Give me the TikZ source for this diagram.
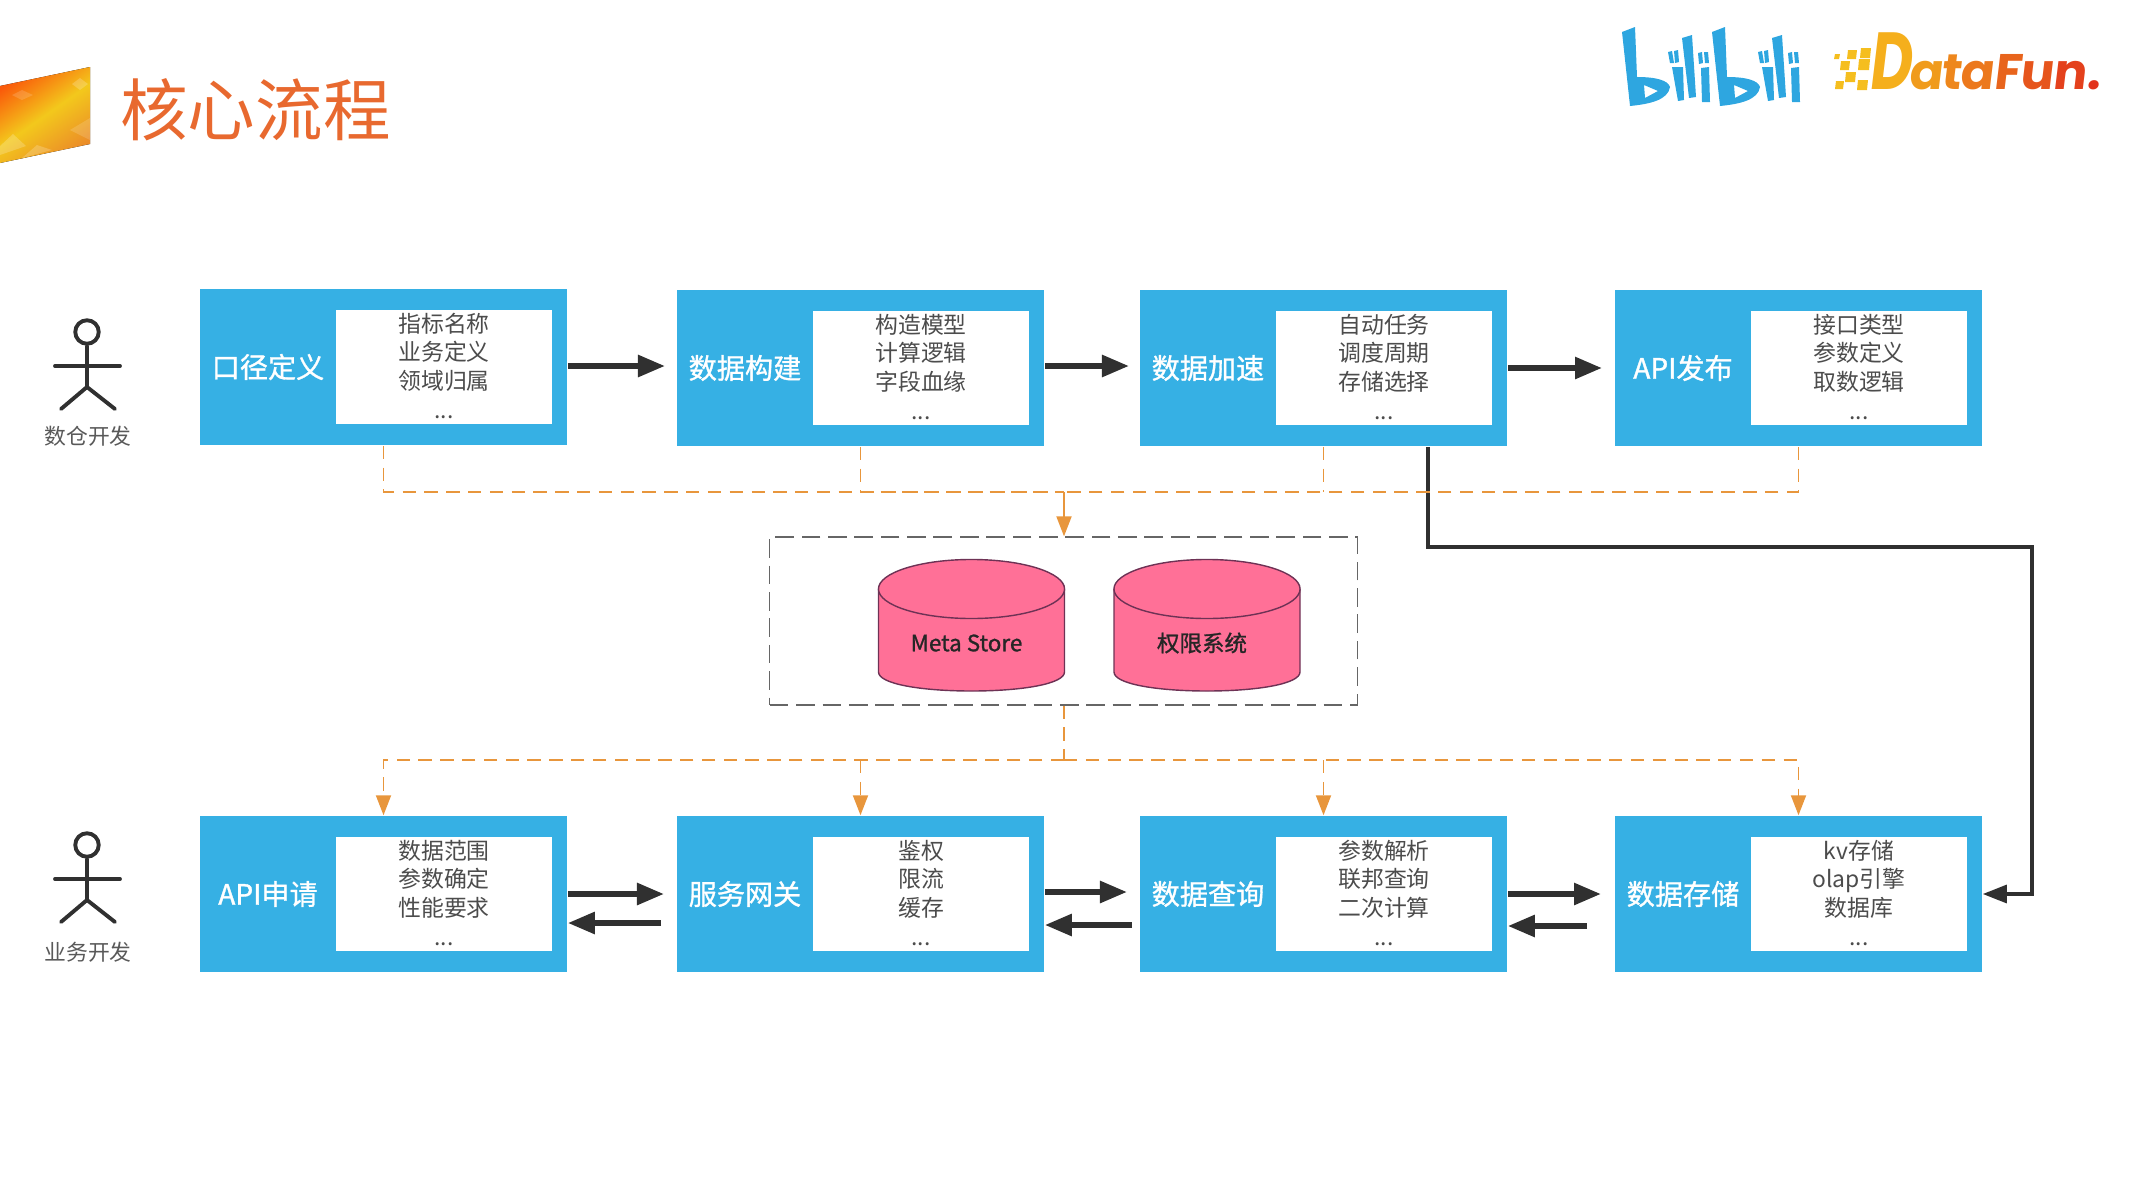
\documentclass[tikz,border=0pt]{standalone}
\usepackage{fontspec}
\setmainfont{Noto Sans CJK SC}
\newfontfamily\mediumfont{Noto Sans CJK SC}[FakeBold=1.1]
\newfontfamily\logofont{Poppins}[BoldFont={Poppins Bold},BoldFeatures={FakeSlant=0.12}]
\newfontface\logodee{Poppins Bold}[FakeSlant=0.12,FakeStretch=0.72]
\usepackage{xcolor}
\usetikzlibrary{arrows.meta}
\usetikzlibrary{backgrounds}
\usetikzlibrary{calc}
\pgfdeclarelayer{edgelayer}
\pgfdeclarelayer{nodelayer}
\pgfsetlayers{background,edgelayer,nodelayer,main}
\definecolor{boxblue}{RGB}{54,176,228}
\definecolor{dashorange}{RGB}{232,150,60}
\definecolor{darkline}{RGB}{48,48,48}
\definecolor{dbpink}{RGB}{255,112,151}
\definecolor{dbedge}{RGB}{110,50,85}
\definecolor{titleorange}{RGB}{232,105,47}
\definecolor{bililogo}{RGB}{46,166,224}
\definecolor{ribbonlow}{RGB}{250,90,10}
\definecolor{ribbonmid}{RGB}{243,200,28}
\definecolor{ribbonhigh}{RGB}{235,140,40}
\tikzstyle{none}=[inner sep=0mm]
\tikzstyle{blue box}=[inner sep=0mm,fill=boxblue,minimum width=3.67cm,minimum height=1.56cm]
\tikzstyle{white box}=[inner sep=0mm,fill=white,minimum width=2.16cm,minimum height=1.14cm,align=center,text=black!70,text depth=0.03cm,font=\fontsize{6.5}{8.16}\selectfont]
\tikzstyle{box title}=[inner sep=0mm,text=white,font=\mediumfont\fontsize{8}{10}\selectfont]
\tikzstyle{actor}=[line width=1.1pt,draw=darkline,line cap=round]
\tikzstyle{actor label}=[inner sep=0mm,text=black!65,font=\fontsize{6.2}{8}\selectfont]
\tikzstyle{flow}=[line width=1.6pt,draw=darkline,-{Triangle[length=0.27cm,width=0.21cm]}]
\tikzstyle{feed}=[line width=0.9pt,draw=darkline,-{Triangle[length=0.24cm,width=0.18cm]}]
\tikzstyle{dash line}=[line width=0.55pt,draw=dashorange,dash pattern=on 3.8pt off 2.4pt]
\tikzstyle{dash arrow}=[dash line,-{Triangle[length=0.2cm,width=0.15cm,fill=dashorange]}]
\tikzstyle{db}=[line width=0.4pt,draw=dbedge,fill=dbpink]
\tikzstyle{logo}=[fill=bililogo]
\tikzset{
	db label/.style={inner sep=0mm,text=black!85,font=\mediumfont\fontsize{6.4}{8}\selectfont}
}
% one "bili" of the logo, x offset in #1
\newcommand{\bililogo}[1]{
	\fill [logo, even odd rule, shift={(#1,0)}] (1622,32) -- (1635,27) -- (1637,77) .. controls (1655,77) and (1668,80) .. (1670,87) .. controls (1668,100) and (1650,104) .. (1630,106) -- cycle
		(1644,85) -- (1658,91) -- (1645,98) -- cycle;
	\fill [logo,shift={(#1,0)}] (1668,52) -- (1672,51) -- (1674,63) -- (1670,63) -- cycle;
	\fill [logo,shift={(#1,0)}] (1674,51) -- (1678,50) -- (1679,62) -- (1675,63) -- cycle;
	\fill [logo,shift={(#1,0)}] (1672,67) -- (1683,67) -- (1684,100) -- (1678,101) -- cycle;
	\fill [logo,shift={(#1,0)}] (1682,38) -- (1692,35) -- (1696,97) -- (1689,98) -- cycle;
	\fill [logo,shift={(#1,0)}] (1698,53) -- (1702,52) -- (1703,63) -- (1699,64) -- cycle;
	\fill [logo,shift={(#1,0)}] (1704,52) -- (1708,52) -- (1709,63) -- (1705,63) -- cycle;
	\fill [logo,shift={(#1,0)}] (1701,68) -- (1709,67) -- (1710,102) -- (1702,102) -- cycle;
}
% letter in its own colour, #1 = red, #2 = green
\newcommand{\funcolor}[3]{\textcolor[RGB]{#1,#2,28}{#3}}
\begin{document}
\begin{tikzpicture}[x=0.01cm,y=-0.01cm]
	\useasboundingbox (0,0) rectangle (2133,1200);
	% heading
	\fill [left color=ribbonlow,right color=ribbonhigh,middle color=ribbonmid,shading angle=35] (0,86) -- (90,67) -- (90,144) -- (0,163) -- cycle;
	\fill [white,opacity=0.2] (0,146) -- (13,134) -- (26,146) -- (0,155) -- cycle;
	\fill [white,opacity=0.2] (22,158) -- (37,145) -- (52,150) -- cycle;
	\fill [white,opacity=0.15] (70,130) -- (90,118) -- (90,140) -- cycle;
	\fill [white,opacity=0.2] (72,84) -- (80,78) -- (88,84) -- (80,90) -- cycle;
	\fill [white,opacity=0.15] (12,95) -- (22,90) -- (33,95) -- (22,100) -- cycle;
	\node [style=none,text=titleorange,font=\fontsize{19.2}{22}\selectfont] (title) at (255.5,110) {核心流程};
	% logos
	\bililogo{0}
	\bililogo{90}
	\foreach \px/\py/\ps in {1835/54/5,1848/50/9,1861/48/10,1841/61/9,1859/59/11,1846/72/10,1836/81/8,1858/80/10} {
		\fill [color={rgb,255:red,245;green,190;blue,30}] (\px,\py) -- ++(\ps,0) -- ++(-1,\ps) -- ++(-\ps,0) -- cycle;
	}
	\node [style=none,anchor=base west] (datafun) at (1868,90) {\fontsize{23}{24}\logodee\funcolor{245}{175}{D}\logofont\bfseries\fontsize{14.2}{16}\selectfont\kern-0.6pt\funcolor{240}{155}{a}\kern-0.7pt\funcolor{238}{135}{t}\kern-0.2pt\funcolor{236}{120}{a}\funcolor{232}{100}{F}\kern-0.6pt\funcolor{230}{85}{u}\funcolor{228}{65}{n}\funcolor{226}{50}{.}};

	\begin{pgfonlayer}{nodelayer}
		% top row
		\node [style=blue box] (a1) at (383.5,367) {};
		\node [style=blue box] (a2) at (860.5,368) {};
		\node [style=blue box] (a3) at (1323.5,368) {};
		\node [style=blue box] (a4) at (1798.5,368) {};
		\node [style=box title] (t1) at (268,367) {口径定义};
		\node [style=box title] (t2) at (745,368) {数据构建};
		\node [style=box title] (t3) at (1208,368) {数据加速};
		\node [style=box title] (t4) at (1683,368) {API发布};
		\node [style=white box] (w1) at (444,367) {指标名称\\业务定义\\领域归属\\...};
		\node [style=white box] (w2) at (921,368) {构造模型\\计算逻辑\\字段血缘\\...};
		\node [style=white box] (w3) at (1384,368) {自动任务\\调度周期\\存储选择\\...};
		\node [style=white box] (w4) at (1859,368) {接口类型\\参数定义\\取数逻辑\\...};
		% bottom row
		\node [style=blue box] (b1) at (383.5,894) {};
		\node [style=blue box] (b2) at (860.5,894) {};
		\node [style=blue box] (b3) at (1323.5,894) {};
		\node [style=blue box] (b4) at (1798.5,894) {};
		\node [style=box title] (s1) at (268,894) {API申请};
		\node [style=box title] (s2) at (745,894) {服务网关};
		\node [style=box title] (s3) at (1208,894) {数据查询};
		\node [style=box title] (s4) at (1683,894) {数据存储};
		\node [style=white box] (v1) at (444,894) {数据范围\\参数确定\\性能要求\\...};
		\node [style=white box] (v2) at (921,894) {鉴权\\限流\\缓存\\...};
		\node [style=white box] (v3) at (1384,894) {参数解析\\联邦查询\\二次计算\\...};
		\node [style=white box] (v4) at (1859,894) {kv存储\\olap引擎\\数据库\\...};
		% store
		\node [style=none,draw=black!60,line width=0.35pt,dash pattern=on 5.3pt off 2.2pt,minimum width=5.87cm,minimum height=1.68cm] (store) at (1063.5,621) {};
		\node [style=actor label] (l1) at (88,436) {数仓开发};
		\node [style=actor label] (l2) at (88,952) {业务开发};
	\end{pgfonlayer}

	\begin{pgfonlayer}{edgelayer}
		\node [style=none] (e1) at (665,366) {};
		\node [style=none] (e2) at (1129,366) {};
		\node [style=none] (e3) at (1602,368) {};
		\draw [style=flow] (a1.east |- e1) to (e1.center);
		\draw [style=flow] (a2.east |- e2) to (e2.center);
		\draw [style=flow] (a3.east |- e3) to (e3.center);
		\node [style=none] (f1) at (664,894) {};
		\node [style=none] (f2) at (1127,892) {};
		\node [style=none] (f3) at (1601,894) {};
		\node [style=none] (g1) at (661,923) {};
		\node [style=none] (g2) at (1132,925) {};
		\node [style=none] (g3) at (1587,926) {};
		\draw [style=flow] (b1.east |- f1) to (f1.center);
		\draw [style=flow] (b2.east |- f2) to (f2.center);
		\draw [style=flow] (b3.east |- f3) to (f3.center);
		\draw [style=flow] (g1.center) to (b1.east |- g1);
		\draw [style=flow] (g2.center) to (b2.east |- g2);
		\draw [style=flow] (g3.center) to (b3.east |- g3);
		% long way round
		\node [style=none] (c1) at (1428,547) {};
		\node [style=none] (c2) at (2032,547) {};
		\node [style=none] (c3) at (2032,894) {};
		\draw [style=feed] (a3.south -| c1) to (c1.center) to (c2.center) to (c3.center) to (b4.east);
		% dashed feed into the store
		\node [style=none] (m1) at (1064,492) {};
		\draw [style=dash line] (a1.south) |- (m1.center);
		\draw [style=dash line] (a2.south) |- (m1.center);
		\draw [style=dash line] (a3.south) to (a3.south |- m1);
		\draw [style=dash line] (a4.south) |- (m1.center);
		\draw [line width=0.55pt,draw=dashorange,-{Triangle[length=0.2cm,width=0.15cm,fill=dashorange]}] (m1.center) to (store.north -| m1);
		% dashed feed out of the store
		\node [style=none] (m2) at (1064,760) {};
		\draw [style=dash line] (store.south -| m2) to (m2.center);
		\draw [style=dash arrow] (m2.center) -| (b1.north);
		\draw [style=dash arrow] (b2.north |- m2) to (b2.north);
		\draw [style=dash arrow] (b3.north |- m2) to (b3.north);
		\draw [style=dash arrow] (m2.center) -| (b4.north);
	\end{pgfonlayer}

	% the two stores
	\foreach \cx/\cn/\ct in {971.5/d1/Meta Store,1207/d2/权限系统} {
		\draw [style=db] (\cx-93,589) -- (\cx-93,672) .. controls (\cx-93,684) and (\cx-50,691) .. (\cx,691) .. controls (\cx+50,691) and (\cx+93,684) .. (\cx+93,672) -- (\cx+93,589);
		\draw [style=db] (\cx,589) ellipse (0.93cm and 0.295cm);
		\node [style=db label] (\cn) at (\cx-5,643) {\ct};
	}

	% the two actors
	\foreach \oy/\hn in {0/h1,513/h2} {
		\node [style=none,circle,draw=darkline,line width=1.1pt,minimum size=0.235cm] (\hn) at (87,332+\oy) {};
		\draw [style=actor] (\hn.south) -- (87,387+\oy) -- (61,409+\oy);
		\draw [style=actor] (87,387+\oy) -- (115,409+\oy);
		\draw [style=actor] (55,366+\oy) -- (120,366+\oy);
	}
\end{tikzpicture}
\end{document}
